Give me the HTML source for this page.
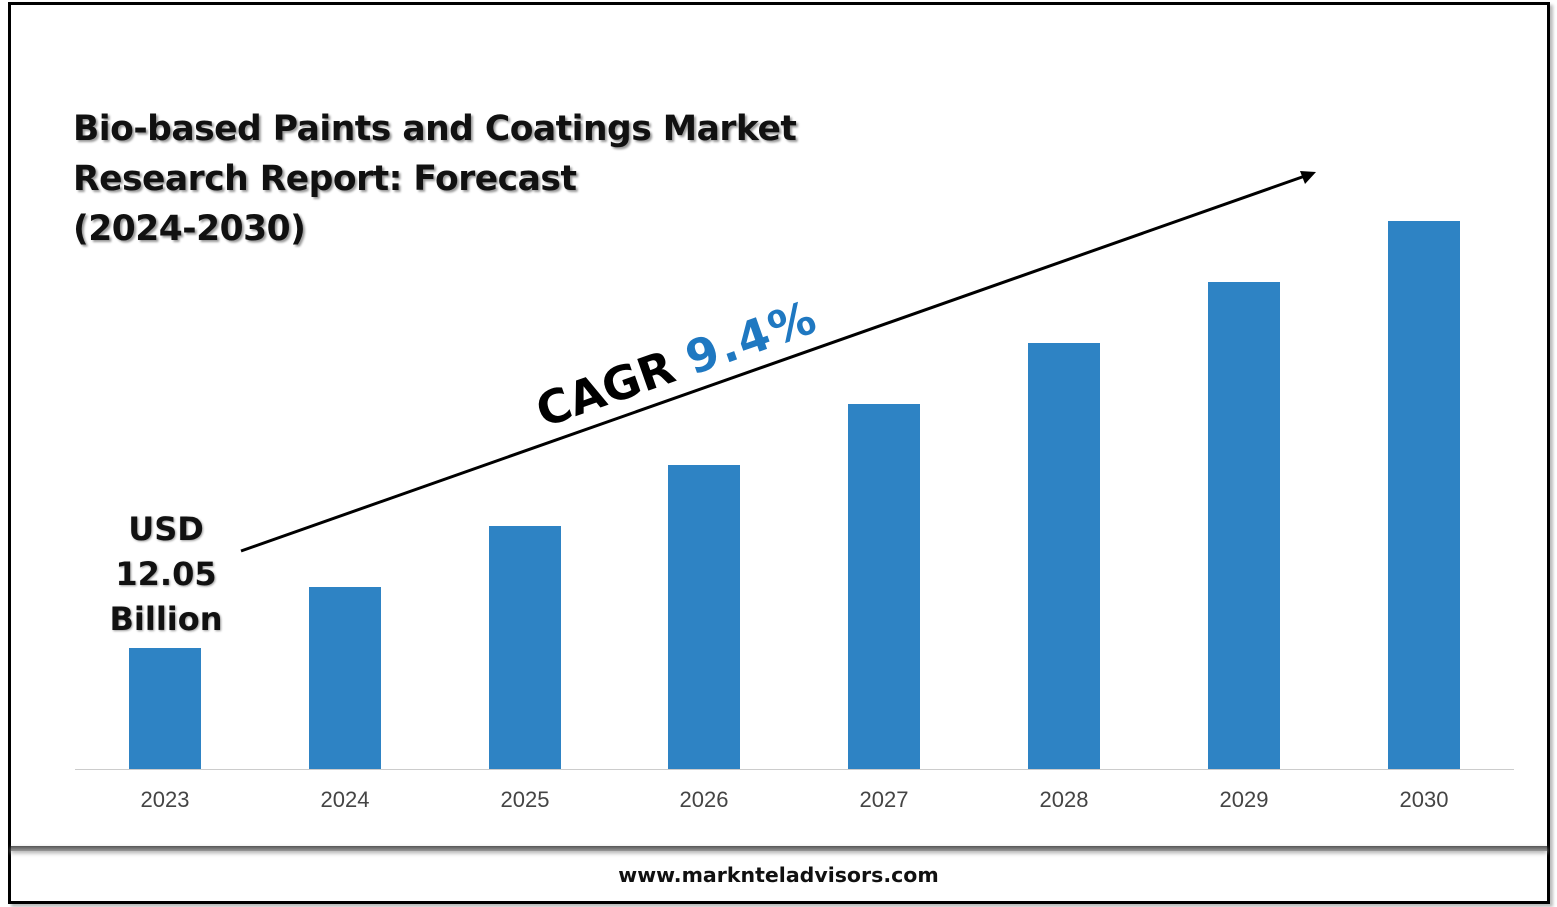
<!DOCTYPE html>
<html><head><style>
body{margin:0;width:1557px;height:907px;background:#fff;position:relative;overflow:hidden;font-family:"DejaVu Sans","Liberation Sans",sans-serif}
.frame{position:absolute;left:8px;top:2px;width:1536px;height:896px;border:3px solid #000;box-shadow:3px 3px 3px #bbb}
.band{position:absolute;left:11px;top:846px;width:1536px;height:5px;background:linear-gradient(#555,#999);box-shadow:0 2px 4px #aaa}
.t{position:absolute;left:73px;top:104px;font-size:34.5px;font-weight:bold;line-height:50px;color:#111;text-shadow:2px 2px 2px #999;letter-spacing:-0.5px}
.bar{position:absolute;width:72px;background:#2e83c4;bottom:138px}
.yr{position:absolute;top:787px;width:100px;text-align:center;font-size:22px;color:#444;font-family:"Liberation Sans",sans-serif}
.usd{position:absolute;left:100px;top:507px;width:132px;text-align:center;font-size:32px;font-weight:bold;line-height:45px;color:#111;text-shadow:1px 1px 2px #999}
.cagr{position:absolute;left:547px;top:384px;font-size:46px;font-weight:bold;transform:rotate(-19.4deg);transform-origin:left bottom;white-space:nowrap;color:#000}
.foot{position:absolute;top:863px;left:0;width:1557px;text-align:center;font-size:20.5px;font-weight:bold;color:#111}
</style></head><body>
<div class="frame"></div>
<div class="band"></div>
<div class="t">Bio-based Paints and Coatings Market<br>Research Report: Forecast<br>(2024-2030)</div>
<div style="position:absolute;left:75px;top:769px;width:1439px;height:1px;background:#ccc"></div>
<div class="bar" style="left:129px;top:648px"></div>
<div class="bar" style="left:309px;top:587px"></div>
<div class="bar" style="left:489px;top:526px"></div>
<div class="bar" style="left:668px;top:465px"></div>
<div class="bar" style="left:848px;top:404px"></div>
<div class="bar" style="left:1028px;top:343px"></div>
<div class="bar" style="left:1208px;top:282px"></div>
<div class="bar" style="left:1388px;top:221px"></div>
<div class="yr" style="left:115px">2023</div>
<div class="yr" style="left:295px">2024</div>
<div class="yr" style="left:475px">2025</div>
<div class="yr" style="left:654px">2026</div>
<div class="yr" style="left:834px">2027</div>
<div class="yr" style="left:1014px">2028</div>
<div class="yr" style="left:1194px">2029</div>
<div class="yr" style="left:1374px">2030</div>
<div class="usd">USD<br>12.05<br>Billion</div>
<svg style="position:absolute;left:0;top:0" width="1557" height="907">
<line x1="241" y1="551" x2="1305" y2="176" stroke="#000" stroke-width="3"/>
<polygon points="1316,172 1300,171 1305,184" fill="#000"/>
</svg>
<div class="cagr">CAGR <span style="color:#1f78c1;letter-spacing:2px">9.4%</span></div>
<div class="foot">www.marknteladvisors.com</div>
</body></html>
